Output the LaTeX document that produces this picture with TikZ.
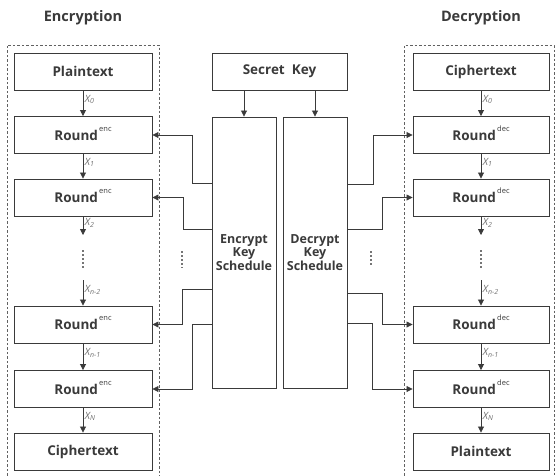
\documentclass[tikz,border=0pt]{standalone}
\usepackage{fontspec}
\setmainfont{Open Sans}
\usetikzlibrary{arrows.meta}
\definecolor{ln}{HTML}{3A3A3A}
\definecolor{lbl}{HTML}{707070}
\tikzset{
  blk/.style={draw=ln, line width=0.9pt, minimum width=138pt, minimum height=37pt, inner sep=0pt, font=\fontsize{13.5}{15}\selectfont\bfseries, text=ln},
  rblk/.style={blk, minimum width=136pt},
  ksbox/.style={draw=ln, line width=0.9pt, minimum width=64pt, minimum height=271pt, inner sep=0pt, align=center, font=\fontsize{12.5}{13.5}\selectfont\bfseries, text=ln},
  arr/.style={draw=ln, line width=0.8pt, -{Triangle[length=6pt,width=6pt]}},
  xl/.style={font=\fontsize{10}{11}\selectfont\itshape, text=lbl, anchor=west, inner sep=1.5pt},
  frame/.style={draw=ln!80, line width=0.8pt, dash pattern=on 2.5pt off 2pt},
  vdots/.style={draw=ln!70, line width=1.6pt, dash pattern=on 1.5pt off 2.5pt},
  head/.style={font=\fontsize{14.5}{16}\selectfont\bfseries, text=ln}
}
\newcommand{\rsup}[1]{\smash{\raisebox{0.65em}{\fontsize{7.5}{8}\selectfont\mdseries\,#1}}}
\begin{document}
\begin{tikzpicture}[x=1pt,y=-1pt]
\useasboundingbox (0,0) rectangle (556,475);
% frames
\draw[frame] (7,480) -- (7,45) -- (159,45) -- (159,480);
\draw[frame] (404,480) -- (404,45) -- (554,45) -- (554,480);
% headings
\node[head] (henc) at (83,18) {Encryption};
\node[head] (hdec) at (481,18) {Decryption};
% left column
\node[blk] (pt) at (83,71.5) {Plaintext};
\node[blk] (e1) at (83,135) {Round\rsup{enc}};
\node[blk] (e2) at (83,197.5) {Round\rsup{enc}};
\node[blk] (e3) at (83,324.5) {Round\rsup{enc}};
\node[blk] (e4) at (83,389) {Round\rsup{enc}};
\node[blk] (ct) at (83,451.5) {Ciphertext};
% right column
\node[rblk] (ct2) at (481,71.5) {Ciphertext};
\node[rblk] (d1) at (481,135) {Round\rsup{dec}};
\node[rblk] (d2) at (481,197.5) {Round\rsup{dec}};
\node[rblk] (d3) at (481,324.5) {Round\rsup{dec}};
\node[rblk] (d4) at (481,389) {Round\rsup{dec}};
\node[rblk] (pt2) at (481,451.5) {Plaintext};
% middle
\node[blk, minimum width=135pt] (sk) at (279.5,71.5) {Secret\ \ Key};
\node[ksbox] (eks) at (244,252.5) {Encrypt\\Key\\Schedule};
\node[ksbox] (dks) at (315,252.5) {Decrypt\\Key\\Schedule};
\draw[arr] (sk.south -| eks) -- (eks.north);
\draw[arr] (sk.south -| dks) -- (dks.north);
% left chain
\coordinate (e2b) at (83,235);
\coordinate (e3t) at (83,280);
\draw[arr] (pt) -- node[xl, pos=0.35] {X\textsubscript{0}} (e1);
\draw[arr] (e1) -- node[xl, pos=0.35] {X\textsubscript{1}} (e2);
\draw[arr] (e2) -- node[xl, pos=0.35] {X\textsubscript{2}} (e2b);
\draw[arr] (e3t) -- node[xl, pos=0.4] {X\textsubscript{n-2}} (e3);
\draw[arr] (e3) -- node[xl, pos=0.35] {X\textsubscript{n-1}} (e4);
\draw[arr] (e4) -- node[xl, pos=0.35] {X\textsubscript{N}} (ct);
% right chain
\coordinate (d2b) at (481,235);
\coordinate (d3t) at (481,280);
\draw[arr] (ct2) -- node[xl, pos=0.35] {X\textsubscript{0}} (d1);
\draw[arr] (d1) -- node[xl, pos=0.35] {X\textsubscript{1}} (d2);
\draw[arr] (d2) -- node[xl, pos=0.35] {X\textsubscript{2}} (d2b);
\draw[arr] (d3t) -- node[xl, pos=0.4] {X\textsubscript{n-2}} (d3);
\draw[arr] (d3) -- node[xl, pos=0.35] {X\textsubscript{n-1}} (d4);
\draw[arr] (d4) -- node[xl, pos=0.35] {X\textsubscript{N}} (pt2);
% dots
\draw[vdots] (83,250) -- (83,270);
\draw[vdots] (481,250) -- (481,270);
\draw[vdots] (182,251) -- (182,268);
\draw[vdots] (371,251) -- (371,266);
% encrypt key connectors
\draw[arr] (eks.west |- 0,183) -| (192,135) -- (e1.east);
\draw[arr] (eks.west |- 0,229) -| (183,197.5) -- (e2.east);
\draw[arr] (eks.west |- 0,289) -| (182,324.5) -- (e3.east);
\draw[arr] (eks.west |- 0,324) -| (192,389) -- (e4.east);
% decrypt key connectors
\draw[arr] (dks.east |- 0,184) -| (373,135) -- (d1.west);
\draw[arr] (dks.east |- 0,229) -| (382,197.5) -- (d2.west);
\draw[arr] (dks.east |- 0,293) -| (382,324.5) -- (d3.west);
\draw[arr] (dks.east |- 0,323) -| (372,389) -- (d4.west);
\end{tikzpicture}
\end{document}
